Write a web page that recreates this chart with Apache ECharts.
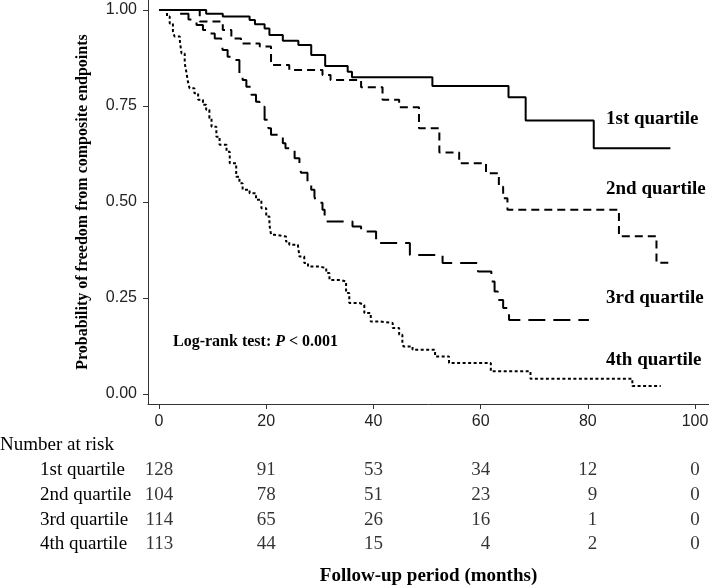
<!DOCTYPE html>
<html>
<head>
<meta charset="utf-8">
<script src="https://cdn.jsdelivr.net/npm/echarts@6/dist/echarts.min.js"></script>
<style>
html,body{margin:0;padding:0;background:#fff;}
#chart{width:709px;height:587px;}
</style>
</head>
<body>
<div id="chart"></div>
<script>
// ---- Data ----
var xTicks = [0, 20, 40, 60, 80, 100];
var yTicks = [0, 0.25, 0.5, 0.75, 1];

// Kaplan-Meier step points: [time, survival after the step]
var q1Curve = [[0,1],[8.8,0.990],[11.9,0.983],[16.9,0.974],[17.9,0.963],[19.7,0.952],[20.6,0.935],[23.1,0.920],[26.0,0.909],[28.4,0.883],[31.0,0.854],[35.2,0.839],[36.0,0.825],[51.0,0.802],[65.2,0.773],[68.4,0.712],[81.1,0.640],[95.4,0.640]];
var q2Curve = [[0,1],[7.6,0.970],[11.9,0.948],[13.5,0.926],[15.3,0.913],[18.8,0.905],[20.9,0.857],[24.3,0.844],[30.5,0.831],[32.0,0.818],[37.7,0.799],[41.7,0.766],[44.8,0.747],[48.5,0.692],[52.3,0.629],[56.0,0.601],[61.0,0.575],[63.4,0.540],[64.2,0.510],[65.0,0.480],[85.8,0.411],[92.8,0.342],[95.4,0.342]];
var q3Curve = [[0,1],[3.5,0.990],[5.5,0.975],[7.0,0.961],[8.2,0.948],[9.1,0.939],[10.4,0.926],[11.6,0.913],[11.9,0.896],[12.8,0.878],[13.8,0.870],[15.0,0.835],[15.6,0.818],[16.3,0.800],[17.2,0.779],[18.1,0.761],[18.75,0.748],[19.7,0.714],[20.4,0.692],[20.9,0.675],[23.1,0.653],[23.6,0.640],[25.3,0.614],[26.2,0.597],[26.5,0.576],[27.7,0.553],[28.4,0.532],[29.0,0.514],[29.3,0.498],[30.5,0.480],[30.9,0.449],[36.1,0.436],[37.7,0.423],[40.5,0.393],[46.8,0.362],[52.9,0.341],[59.5,0.319],[62.0,0.293],[62.6,0.267],[63.2,0.245],[64.2,0.224],[65.3,0.193],[80.2,0.193]];
var q4Curve = [[0,1],[1.5,0.983],[2.0,0.965],[2.6,0.944],[2.9,0.931],[3.9,0.918],[4.2,0.887],[4.8,0.861],[5.1,0.839],[5.4,0.813],[5.7,0.796],[6.6,0.783],[7.3,0.766],[8.2,0.753],[8.8,0.740],[9.4,0.718],[9.8,0.696],[10.7,0.670],[11.3,0.649],[12.6,0.631],[13.2,0.601],[14.4,0.566],[15.0,0.549],[15.6,0.532],[16.9,0.523],[18.1,0.506],[19.1,0.484],[20.0,0.462],[20.6,0.441],[20.9,0.415],[21.5,0.410],[23.7,0.397],[24.3,0.389],[25.9,0.384],[26.2,0.358],[27.1,0.341],[27.8,0.332],[29.9,0.328],[31.2,0.315],[31.8,0.297],[33.8,0.293],[34.9,0.263],[35.5,0.237],[37.4,0.232],[38.3,0.211],[39.5,0.189],[41.1,0.185],[43.6,0.172],[44.8,0.154],[45.4,0.133],[45.6,0.124],[47.3,0.115],[51.5,0.098],[54.1,0.081],[61.9,0.059],[69.3,0.040],[88.3,0.021],[93.6,0.021]];

var groupNames = ['1st quartile', '2nd quartile', '3rd quartile', '4th quartile'];
var riskTimes = [0, 20, 40, 60, 80, 100];
var risk1 = [128, 91, 53, 34, 12, 0];
var risk2 = [104, 78, 51, 23, 9, 0];
var risk3 = [114, 65, 26, 16, 1, 0];
var risk4 = [113, 44, 15, 4, 2, 0];

// ---- Build chart ----
var SERIF = '"Liberation Serif","Times New Roman",serif';
var SANS = '"Liberation Sans",Arial,sans-serif';
var riskRows = [risk1, risk2, risk3, risk4];
var digitW = 9.5;
var riskData = [];
riskTimes.forEach(function (t, j) {
  var maxLen = 0;
  riskRows.forEach(function (r) { maxLen = Math.max(maxLen, String(r[j]).length); });
  riskRows.forEach(function (r, i) {
    riskData.push({ value: [t, i, r[j]], label: { offset: [maxLen * digitW / 2, 0] } });
  });
});

var chart = echarts.init(document.getElementById('chart'), null, { renderer: 'canvas' });
var axisColor = '#333';
var option = {
  animation: false,
  backgroundColor: '#fff',
  grid: [
    { left: 148, right: 0, top: 0, height: 404, containLabel: false, outerBoundsMode: 'none' },
    { left: 148, right: 0, top: 457.6, height: 99.2, containLabel: false, outerBoundsMode: 'none' }
  ],
  xAxis: [
    {
      type: 'value', gridIndex: 0, min: -2.05, max: 102.6,
      splitLine: { show: false },
      axisLine: { show: true, onZero: false, lineStyle: { color: axisColor, width: 1 } },
      axisTick: { show: true, length: 5, customValues: xTicks, lineStyle: { color: axisColor } },
      axisLabel: { customValues: xTicks, margin: 10, fontFamily: SANS, fontSize: 16, color: '#222' },
      name: 'Follow-up period (months)', nameLocation: 'middle', nameGap: 163,
      nameTextStyle: { fontFamily: SERIF, fontWeight: 'bold', fontSize: 19, color: '#000' }
    },
    {
      type: 'value', gridIndex: 1, min: -2.05, max: 102.6, show: false
    }
  ],
  yAxis: [
    {
      type: 'value', gridIndex: 0, min: -0.026, max: 1.026,
      splitLine: { show: false },
      axisLine: { show: true, onZero: false, lineStyle: { color: axisColor, width: 1 } },
      axisTick: { show: true, length: 5, customValues: yTicks, lineStyle: { color: axisColor } },
      axisLabel: { customValues: yTicks, margin: 11, fontFamily: SANS, fontSize: 16, color: '#222',
        formatter: function (v) { return v.toFixed(2); } },
      name: 'Probability of freedom from composite endpoints', nameLocation: 'middle', nameGap: 57,
      nameTextStyle: { fontFamily: SERIF, fontWeight: 'bold', fontSize: 16, color: '#000' }
    },
    {
      type: 'category', gridIndex: 1, data: groupNames, inverse: true,
      axisLine: { show: false }, axisTick: { show: false }, splitLine: { show: false },
      axisLabel: { align: 'left', margin: 108, fontFamily: SERIF, fontSize: 19, color: '#000' }
    }
  ],
  series: [
    { name: groupNames[0], type: 'line', step: 'end', data: q1Curve, showSymbol: false, symbol: 'none',
      lineStyle: { color: '#000', width: 2, type: 'solid' }, xAxisIndex: 0, yAxisIndex: 0 },
    { name: groupNames[1], type: 'line', step: 'end', data: q2Curve, showSymbol: false, symbol: 'none',
      lineStyle: { color: '#000', width: 2, type: [8, 5] }, xAxisIndex: 0, yAxisIndex: 0 },
    { name: groupNames[2], type: 'line', step: 'end', data: q3Curve, showSymbol: false, symbol: 'none',
      lineStyle: { color: '#000', width: 2, type: [17, 8] }, xAxisIndex: 0, yAxisIndex: 0 },
    { name: groupNames[3], type: 'line', step: 'end', data: q4Curve, showSymbol: false, symbol: 'none',
      lineStyle: { color: '#000', width: 2, type: [3, 2.5] }, xAxisIndex: 0, yAxisIndex: 0 },
    { name: 'risk', type: 'scatter', xAxisIndex: 1, yAxisIndex: 1, data: riskData,
      symbolSize: 1, itemStyle: { color: 'rgba(0,0,0,0)' }, silent: true,
      label: { show: true, position: 'inside', align: 'right', verticalAlign: 'middle',
        fontFamily: SERIF, fontSize: 19, color: '#000',
        formatter: function (p) { return String(p.value[2]); } } }
  ],
  graphic: [
    { type: 'text', left: 0, top: 447 - 11, style: { text: 'Number at risk', font: '19px ' + SERIF, fill: '#000' } },
    { type: 'text', left: 606, top: 120.7 - 11, style: { text: groupNames[0], font: 'bold 19px ' + SERIF, fill: '#000' } },
    { type: 'text', left: 606, top: 190.7 - 11, style: { text: groupNames[1], font: 'bold 19px ' + SERIF, fill: '#000' } },
    { type: 'text', left: 606, top: 299.5 - 11, style: { text: groupNames[2], font: 'bold 19px ' + SERIF, fill: '#000' } },
    { type: 'text', left: 606, top: 361.7 - 11, style: { text: groupNames[3], font: 'bold 19px ' + SERIF, fill: '#000' } },
    { type: 'text', left: 173, top: 343.3 - 9, style: {
        text: '{a|Log-rank test: }{b|P}{a| < 0.001}',
        rich: {
          a: { fontFamily: SERIF, fontWeight: 'bold', fontSize: 16, fill: '#000', color: '#000' },
          b: { fontFamily: SERIF, fontWeight: 'bold', fontStyle: 'italic', fontSize: 16, fill: '#000', color: '#000' }
        }
      } }
  ]
};
chart.setOption(option);
</script>
</body>
</html>
